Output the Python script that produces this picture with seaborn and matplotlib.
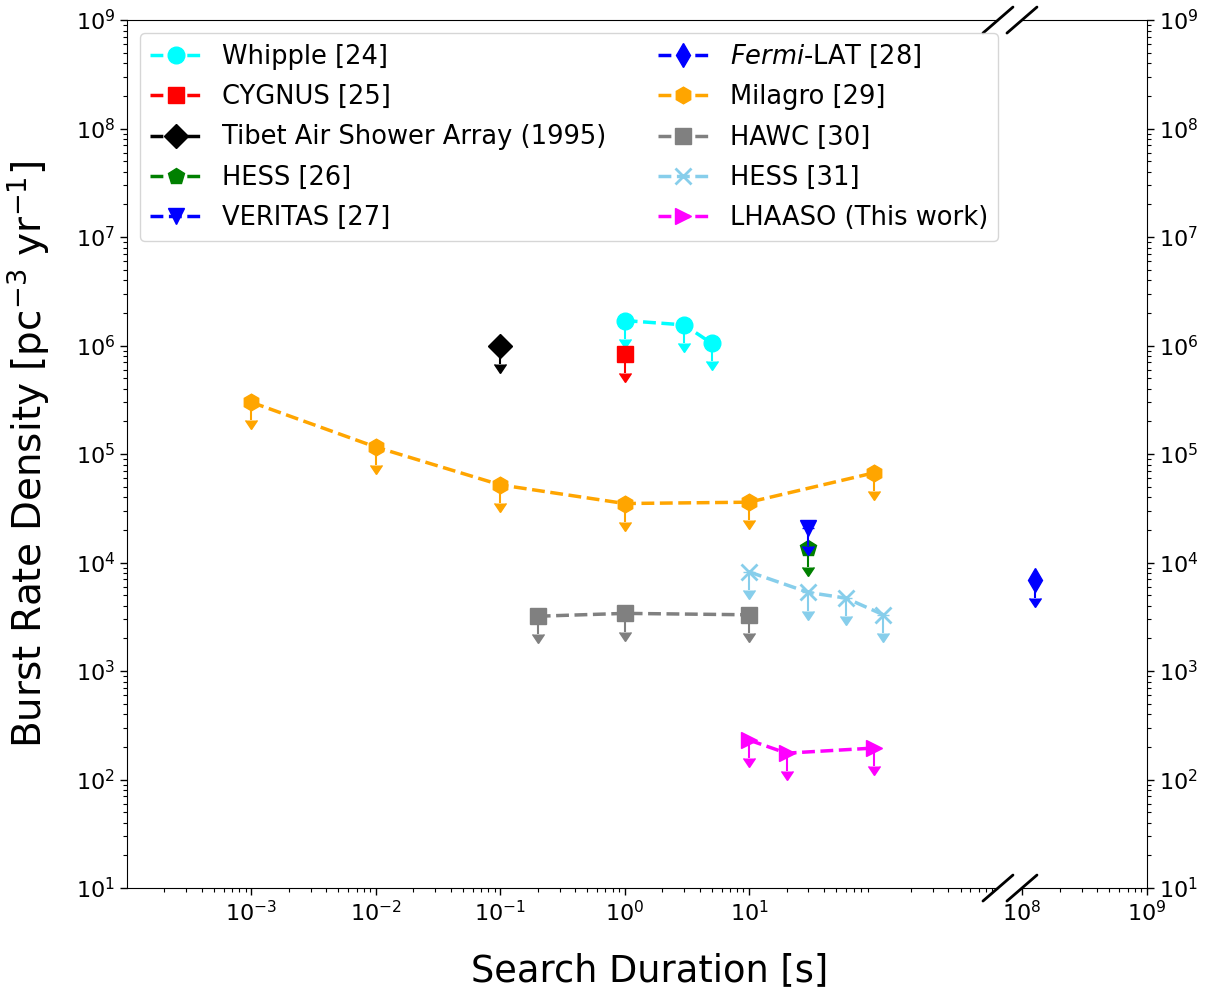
import numpy as np
import pandas as pd
import matplotlib
matplotlib.use("Agg")
import matplotlib.pyplot as plt
from matplotlib.ticker import NullFormatter
import seaborn as sns

sns.set_style("ticks", rc={"text.color": "black", "axes.labelcolor": "black",
                           "xtick.color": "black", "ytick.color": "black",
                           "axes.edgecolor": "black"})
plt.rcParams['font.family'] = ['DejaVu Sans']

# search duration [s] vs. burst rate density upper limit [pc^-3 yr^-1]
whipple_t = [1, 3, 5]
whipple_r = [1.7e6, 1.55e6, 1.05e6]
cygnus_t = [1]
cygnus_r = [8.3e5]
tibet_t = [0.1]
tibet_r = [1.0e6]
hess26_t = [30]
hess26_r = [1.35e4]
veritas_t = [30]
veritas_r = [2.1e4]
fermi_t = [1.27e8]
fermi_r = [6.9e3]
milagro_t = [1e-3, 1e-2, 1e-1, 1, 10, 100]
milagro_r = [3.0e5, 1.16e5, 5.2e4, 3.5e4, 3.6e4, 6.7e4]
hawc_t = [0.2, 1, 10]
hawc_r = [3.2e3, 3.4e3, 3.3e3]
hess31_t = [10, 30, 60, 120]
hess31_r = [8.2e3, 5.3e3, 4.7e3, 3.3e3]
lhaaso_t = [10, 20, 100]
lhaaso_r = [231, 175, 195]

series = [
    ("Whipple [24]", whipple_t, whipple_r, "cyan", "o"),
    ("CYGNUS [25]", cygnus_t, cygnus_r, "red", "s"),
    ("Tibet Air Shower Array (1995)", tibet_t, tibet_r, "black", "D"),
    ("HESS [26]", hess26_t, hess26_r, "green", "p"),
    ("VERITAS [27]", veritas_t, veritas_r, "blue", "v"),
    (r"$\it{Fermi}$-LAT [28]", fermi_t, fermi_r, "blue", "d"),
    ("Milagro [29]", milagro_t, milagro_r, "orange", "h"),
    ("HAWC [30]", hawc_t, hawc_r, "grey", "s"),
    ("HESS [31]", hess31_t, hess31_r, "skyblue", "x"),
    ("LHAASO (This work)", lhaaso_t, lhaaso_r, "magenta", ">"),
]

fig = plt.figure(figsize=(12.06, 9.93), dpi=100)
ax2 = fig.add_axes([0.8474, 0.1057, 0.1037, 0.8741])
ax1 = fig.add_axes([0.1053, 0.1057, 0.7222, 0.8741])
ax1.patch.set_visible(False)
ax1.set_zorder(3)

for ax in (ax1, ax2):
    ax.set_xscale("log")
    ax.set_yscale("log")

handles = []
for label, t, r, c, m in series:
    ax = ax2 if t[0] > 1e6 else ax1
    df = pd.DataFrame({"t": t, "r": r})
    mew = 2 if m == "x" else 1
    sns.lineplot(data=df, x="t", y="r", ax=ax, color=c, marker=m, markersize=12,
                 linestyle="--", linewidth=2.5, markeredgecolor=c, markeredgewidth=mew,
                 errorbar=None, label=label)
    handles.append(ax.get_lines()[-1])
    r = np.array(r)
    eb = ax.errorbar(t, r, yerr=0.32 * r, uplims=True, fmt="none", ecolor=c,
                     elinewidth=1.5, capsize=4.5)
    for cl in eb[1]:
        cl.set_markerfacecolor(c)
        cl.set_markeredgecolor(c)
    if ax.get_legend():
        ax.get_legend().remove()

for ax in (ax1, ax2):
    ax.set_ylim(1e1, 1e9)
    ax.tick_params(which="major", length=5, width=1, labelsize=16)
    ax.tick_params(which="minor", length=3, width=0.8)
    ax.xaxis.set_minor_formatter(NullFormatter())
    ax.yaxis.set_minor_formatter(NullFormatter())

ax1.set_xticks([1e-3, 1e-2, 1e-1, 1, 10])
ax2.set_xticks([1e8, 1e9])
ax1.set_xlim(1e-4, 1e3)
ax2.set_xlim(1e8, 1e9)
ax1.spines["right"].set_visible(False)
ax2.spines["left"].set_visible(False)
ax2.yaxis.tick_right()
ax2.set_yticks(ax1.get_yticks())
ax2.set_ylim(1e1, 1e9)

ax1.xaxis.label.set_visible(False)
ax2.xaxis.label.set_visible(False)
ax2.yaxis.label.set_visible(False)
ax1.set_ylabel(r"Burst Rate Density [pc$^{-3}$ yr$^{-1}$]", fontsize=28)
ax1.yaxis.set_label_coords(-0.086, 0.5)
fig.text(0.539, 0.023, "Search Duration [s]", fontsize=26.5, ha="center", va="center")

# break marks
dx1, dy1 = 15 / 871, 13 / 868
dx2 = 15 / 125
kw = dict(color="black", lw=2, clip_on=False)
ax1.plot([1 - dx1, 1 + dx1], [-dy1, dy1], transform=ax1.transAxes, **kw)
ax1.plot([1 - dx1, 1 + dx1], [1 - dy1, 1 + dy1], transform=ax1.transAxes, **kw)
ax2.plot([-dx2, dx2], [-dy1, dy1], transform=ax2.transAxes, **kw)
ax2.plot([-dx2, dx2], [1 - dy1, 1 + dy1], transform=ax2.transAxes, **kw)

labels = [s[0] for s in series]
ax1.legend(handles, labels, loc="upper left", ncol=2, fontsize=18.5, frameon=True,
           labelspacing=0.55)

fig.savefig("out.png", dpi=100)
